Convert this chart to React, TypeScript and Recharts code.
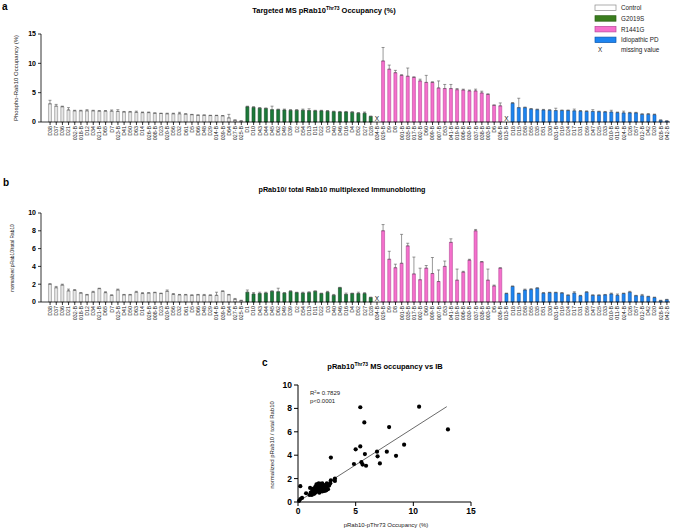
import React from "react";
import {
  ComposedChart,
  ScatterChart,
  Bar,
  Cell,
  ErrorBar,
  Scatter,
  XAxis,
  YAxis,
} from "recharts";

// sample ids per group (034-B and 013-B have no MS value)
const controlIds = ["D38", "D37", "D36", "D21", "032-B", "018-B", "D12", "D34", "021-B", "D65", "D7", "023-B", "D41", "D50", "D63", "D14", "026-B", "008-B", "D23", "020-B", "D56", "D32", "D61", "D5", "D66", "D48", "D29", "014-B", "039-B", "D64", "027-B", "025-B"];
const g2019sIds = ["D1", "D10", "D43", "D44", "D45", "D62", "D49", "D39", "D2", "D54", "D13", "D11", "D22", "D3", "D40", "D46", "D16", "D4", "D52", "D27", "D28"];
const r1441gIds = ["034-B", "029-B", "D9", "D8", "001-B", "035-B", "017-B", "002-B", "D60", "009-B", "007-B", "D53", "041-B", "019-B", "006-B", "030-B", "037-B", "038-B", "003-B", "D6", "036-B"];
const ipdIds = ["013-B", "D18", "D15", "D58", "D55", "D35", "D51", "D30", "031-B", "D19", "D24", "D17", "D31", "D59", "D47", "D25", "D33", "010-B", "011-B", "024-B", "D26", "D57", "012-B", "D42", "D20", "028-B", "042-B"];

// panel a: MS occupancy (%)
const occControl = [3.1, 2.7, 2.6, 2.05, 1.9, 1.9, 1.9, 1.9, 1.85, 1.85, 1.85, 1.8, 1.7, 1.7, 1.65, 1.6, 1.6, 1.5, 1.45, 1.4, 1.4, 1.4, 1.35, 1.25, 1.15, 1.15, 1.1, 1.1, 1.05, 0.7, 0.3, 0.15];
const occControlErr = [0.6, 0.3, 0.1, 0.4, 0.1, 0.1, 0.2, 0.1, 0.1, 0.1, 0.2, 0.3, 0.1, 0.1, 0.2, 0.1, 0.1, 0.05, 0.05, 0.1, 0.1, 0.25, 0.05, 0.05, 0.05, 0.05, 0.05, 0.05, 0.05, 0.6, 0.05, 0.05];
const occG2019s = [2.6, 2.5, 2.35, 2.3, 2.1, 2.1, 2.05, 2.0, 2.0, 2.0, 1.95, 1.9, 1.9, 1.85, 1.75, 1.7, 1.7, 1.65, 1.5, 1.5, 0.95];
const occG2019sErr = [0.1, 0.1, 0.1, 0.1, 0.6, 0.1, 0.15, 0.1, 0.1, 0.2, 0.3, 0.1, 0.1, 0.1, 0.1, 0.1, 0.1, 0.1, 0.1, 0.2, 0.05];
const occR1441g = [null, 10.4, 9.0, 8.4, 7.95, 7.8, 7.6, 7.0, 6.75, 6.75, 5.8, 5.7, 5.7, 5.5, 5.45, 5.3, 5.3, 4.95, 4.7, 2.85, 2.75];
const occR1441gErr = [null, 2.3, 0.7, 0.4, 0.1, 1.4, 0.1, 0.3, 1.2, 0.1, 1.2, 0.7, 0.7, 0.2, 0.15, 0.15, 0.3, 0.3, 0.1, 0.05, 0.5];
const occIpd = [null, 3.2, 2.45, 2.45, 2.2, 2.1, 2.05, 2.0, 1.95, 1.95, 1.95, 1.9, 1.85, 1.8, 1.8, 1.75, 1.7, 1.7, 1.6, 1.55, 1.55, 1.55, 1.3, 1.3, 1.25, 0.3, 0.15];
const occIpdErr = [null, 0.1, 1.6, 0.1, 0.1, 0.1, 0.1, 0.1, 0.4, 0.1, 0.1, 0.3, 0.1, 0.1, 0.3, 0.1, 0.1, 0.3, 0.1, 0.3, 0.1, 0.1, 0.1, 0.15, 0.1, 0.05, 0.05];

// panel b: normalized pRab10 / total Rab10
const ibControl = [2.0, 1.6, 1.9, 1.25, 1.3, 1.0, 0.8, 1.1, 1.5, 1.05, 0.75, 1.35, 0.8, 0.8, 1.1, 0.95, 1.0, 1.05, 0.95, 1.2, 0.85, 0.8, 0.8, 0.75, 0.8, 0.75, 0.75, 0.75, 1.2, 0.8, 0.3, 0.15];
const ibControlErr = [0.05, 0.15, 0.1, 0.2, 0.1, 0.05, 0.05, 0.1, 0.05, 0.1, 0.05, 0.1, 0.05, 0.05, 0.1, 0.1, 0.05, 0.05, 0.05, 0.15, 0.1, 0.05, 0.05, 0.05, 0.05, 0.1, 0.05, 0.35, 0.05, 0.05, 0.1, 0.05];
const ibG2019s = [1.1, 0.9, 0.95, 1.0, 1.2, 1.15, 1.0, 1.2, 1.05, 1.0, 1.05, 1.2, 0.95, 1.1, 0.75, 1.6, 0.85, 0.95, 0.95, 0.95, 0.5];
const ibG2019sErr = [0.25, 0.15, 0.15, 0.1, 0.05, 0.4, 0.05, 0.05, 0.05, 0.1, 0.1, 0.05, 0.05, 0.1, 0.1, 0.05, 0.15, 0.05, 0.15, 0.1, 0.05];
const ibR1441g = [null, 8.0, 4.8, 3.85, 4.35, 6.3, 3.15, 2.5, 3.8, 3.2, 2.3, 4.0, 6.7, 2.45, 3.35, 4.7, 8.0, 4.5, 2.45, 1.8, 3.8];
const ibR1441gErr = [null, 0.7, 0.9, 0.4, 3.25, 0.3, 1.9, 1.3, 0.3, 1.8, 1.3, 0.6, 0.4, 1.25, 0.1, 0.1, 0.15, 0.05, 1.25, 0.1, 0.05];
const ibIpd = [0.95, 1.75, 0.95, 1.35, 1.4, 1.55, 1.0, 1.05, 1.05, 1.0, 0.75, 1.0, 0.7, 1.1, 0.75, 0.75, 0.8, 0.9, 0.75, 0.95, 1.1, 0.7, 0.7, 0.6, 0.5, 0.15, 0.25];
const ibIpdErr = [0.05, 0.05, 0.05, 0.1, 0.1, 0.05, 0.05, 0.05, 0.05, 0.05, 0.05, 0.15, 0.05, 0.05, 0.05, 0.05, 0.05, 0.1, 0.15, 0.05, 0.1, 0.05, 0.15, 0.05, 0.05, 0.05, 0.05];

// panel c: MS occupancy vs IB
const scatterOcc = [0.1, 0.2, 0.35, 0.2, 0.7, 1.05, 1.0, 1.1, 1.2, 1.25, 1.3, 1.35, 1.4, 1.45, 1.5, 1.5, 1.55, 1.6, 1.65, 1.7, 1.7, 1.75, 1.8, 1.8, 1.85, 1.9, 1.9, 1.95, 2.0, 2.0, 2.05, 2.1, 2.1, 2.2, 2.25, 2.3, 2.3, 2.4, 2.5, 2.5, 2.6, 2.7, 2.8, 2.85, 2.85, 3.2, 3.2, 1.6, 1.95, 2.45, 1.75, 2.15, 4.85, 5.0, 5.4, 5.4, 5.5, 5.6, 5.75, 5.8, 5.9, 6.85, 6.9, 7.1, 7.7, 7.9, 8.5, 9.2, 10.5, 13.0];
const scatterIb = [0.1, 0.25, 0.35, 1.35, 0.75, 1.2, 0.6, 0.8, 0.6, 1.0, 0.9, 1.15, 0.7, 1.0, 0.8, 1.3, 1.1, 0.95, 1.2, 1.5, 0.9, 1.0, 1.6, 1.2, 0.8, 1.3, 1.05, 0.95, 1.5, 1.0, 1.2, 1.6, 0.9, 1.2, 1.45, 0.95, 1.35, 1.05, 1.3, 1.6, 1.1, 1.4, 1.6, 1.85, 3.8, 2.0, 1.8, 1.5, 1.55, 1.0, 1.35, 1.05, 3.25, 4.5, 4.75, 8.1, 3.4, 3.2, 6.8, 4.1, 3.1, 4.3, 3.9, 3.3, 4.3, 6.4, 3.95, 4.9, 8.15, 6.2];
const fitOcc = [0.05, 12.9];
const fitIb = [0.05, 8.15];

const groupStyle: Record<string, { fill: string; stroke: string }> = {
  control: { fill: "#e6e6e6", stroke: "#8a8a8a" },
  g2019s: { fill: "#1c7a3a", stroke: "#0d4a20" },
  r1441g: { fill: "#f570cc", stroke: "#b8479b" },
  ipd: { fill: "#1d84f0", stroke: "#0d57ad" },
};

const allIds = [...controlIds, ...g2019sIds, ...r1441gIds, ...ipdIds];
const groupOf = [
  ...controlIds.map(() => "control"),
  ...g2019sIds.map(() => "g2019s"),
  ...r1441gIds.map(() => "r1441g"),
  ...ipdIds.map(() => "ipd"),
];

function buildRows(vals: (number | null)[], errs: (number | null)[]) {
  return allIds.map((id, i) => ({
    i,
    v: vals[i],
    e: vals[i] == null || errs[i] == null ? undefined : [0, errs[i]],
    miss: vals[i] == null ? 0 : null,
  }));
}

const occRows = buildRows(
  [...occControl, ...occG2019s, ...occR1441g, ...occIpd],
  [...occControlErr, ...occG2019sErr, ...occR1441gErr, ...occIpdErr]
);
const ibRows = buildRows(
  [...ibControl, ...ibG2019s, ...ibR1441g, ...ibIpd],
  [...ibControlErr, ...ibG2019sErr, ...ibR1441gErr, ...ibIpdErr]
);
const scatterRows = scatterOcc.map((x, i) => ({ x, y: scatterIb[i] }));
const fitRows = fitOcc.map((x, i) => ({ x, y: fitIb[i] }));

const FONT = "'Liberation Sans', Arial, Helvetica, sans-serif";

const IdTick = (props: any) => {
  const { x, y, payload } = props;
  return (
    <text
      x={x}
      y={y}
      transform={`rotate(-90 ${x} ${y})`}
      textAnchor="end"
      dy="0.35em"
      fontSize={5.3}
      fill="#222"
    >
      {allIds[payload.value]}
    </text>
  );
};

const MissShape = (props: any) => {
  if (props.payload?.miss == null) return <g />;
  return (
    <text x={props.cx} y={props.cy - 1} textAnchor="middle" fontSize={6.5} fill="#111">
      X
    </text>
  );
};

const Dot = (props: any) => <circle cx={props.cx} cy={props.cy} r={2.1} fill="#000" />;

function BarPanel({
  rows,
  top,
  height,
  marginTop,
  xHeight,
  yMax,
  yTicks,
}: {
  rows: any[];
  top: number;
  height: number;
  marginTop: number;
  xHeight: number;
  yMax: number;
  yTicks: number[];
}) {
  return (
    <div style={{ position: "absolute", left: 0, top }}>
      <ComposedChart
        width={679}
        height={height}
        data={rows}
        margin={{ top: marginTop, right: 9, left: 0, bottom: 0 }}
        barCategoryGap="24%"
      >
        <XAxis
          dataKey="i"
          type="category"
          interval={0}
          tick={<IdTick />}
          tickSize={3}
          tickMargin={1}
          height={xHeight}
          padding={{ left: 6, right: 0 }}
          stroke="#000"
          strokeWidth={0.8}
        />
        <YAxis
          width={41}
          domain={[0, yMax]}
          ticks={yTicks}
          tickSize={3}
          tickMargin={2}
          stroke="#000"
          strokeWidth={0.8}
          tick={{ fontSize: 7, fontWeight: 700, fill: "#000" }}
        />
        <Bar dataKey="v" strokeWidth={0.6} isAnimationActive={false}>
          {rows.map((r, idx) => (
            <Cell
              key={idx}
              fill={groupStyle[groupOf[idx]].fill}
              stroke={groupStyle[groupOf[idx]].stroke}
            />
          ))}
          <ErrorBar
            dataKey="e"
            direction="y"
            width={1.5}
            stroke="#555"
            strokeWidth={0.6}
            isAnimationActive={false}
          />
        </Bar>
        <Scatter dataKey="miss" shape={<MissShape />} isAnimationActive={false} />
      </ComposedChart>
    </div>
  );
}

export default function App() {
  const legend = [
    { label: "Control", fill: "#ffffff", stroke: "#8a8a8a" },
    { label: "G2019S", fill: "#3a7d1e", stroke: "#2c6014" },
    { label: "R1441G", fill: "#f570cc", stroke: "#b8479b" },
    { label: "Idiopathic PD", fill: "#1d84f0", stroke: "#0d57ad" },
  ];
  return (
    <div
      style={{
        position: "absolute",
        left: 0,
        top: 0,
        width: 679,
        height: 530,
        background: "#fff",
        fontFamily: FONT,
        overflow: "hidden",
      }}
    >
      <BarPanel rows={occRows} top={0} height={170} marginTop={34} xHeight={48} yMax={15} yTicks={[0, 5, 10, 15]} />
      <BarPanel rows={ibRows} top={175} height={170} marginTop={38} xHeight={43} yMax={10} yTicks={[0, 2, 4, 6, 8, 10]} />

      <div style={{ position: "absolute", left: 250, top: 370 }}>
        <ScatterChart width={230} height={160} margin={{ top: 15, right: 9, left: 0, bottom: 8 }}>
          <XAxis
            type="number"
            dataKey="x"
            domain={[0, 15]}
            ticks={[0, 5, 10, 15]}
            height={20}
            tickSize={4}
            tickMargin={2}
            stroke="#000"
            strokeWidth={1}
            tick={{ fontSize: 8.5, fontWeight: 700, fill: "#000" }}
          />
          <YAxis
            type="number"
            dataKey="y"
            width={48}
            domain={[0, 10]}
            ticks={[0, 2, 4, 6, 8, 10]}
            tickSize={4}
            tickMargin={2}
            stroke="#000"
            strokeWidth={1}
            tick={{ fontSize: 8.5, fontWeight: 700, fill: "#000" }}
          />
          <Scatter
            data={fitRows}
            line={{ stroke: "#444", strokeWidth: 0.8 }}
            shape={() => <g />}
            isAnimationActive={false}
          />
          <Scatter data={scatterRows} shape={<Dot />} isAnimationActive={false} />
        </ScatterChart>
      </div>

      <svg
        width={679}
        height={530}
        style={{ position: "absolute", left: 0, top: 0, pointerEvents: "none" }}
        fontFamily={FONT}
      >
        <text x={2} y={10} fontSize={10} fontWeight={700}>a</text>
        <text x={3} y={186} fontSize={10} fontWeight={700}>b</text>
        <text x={262} y={366} fontSize={10} fontWeight={700}>c</text>

        <text x={324} y={13} fontSize={7.5} fontWeight={700} textAnchor="middle">
          Targeted MS pRab10
          <tspan dy={-3} fontSize={5}>Thr73</tspan>
          <tspan dy={3}> Occupancy (%)</tspan>
        </text>
        <text x={342} y={192} fontSize={7.2} fontWeight={700} textAnchor="middle">
          pRab10/ total Rab10 multiplexed Immunoblotting
        </text>
        <text x={385} y={369} fontSize={7.5} fontWeight={700} textAnchor="middle">
          pRab10
          <tspan dy={-3} fontSize={5}>Thr73</tspan>
          <tspan dy={3}> MS occupancy vs IB</tspan>
        </text>

        <text transform="translate(18 78) rotate(-90)" fontSize={6} textAnchor="middle" fill="#222">
          Phospho-Rab10 Occupancy (%)
        </text>
        <text transform="translate(14 258) rotate(-90)" fontSize={4.8} textAnchor="middle" fill="#222">
          normalized pRab10/total Rab10
        </text>
        <text transform="translate(274 445) rotate(-90)" fontSize={6} textAnchor="middle" fill="#222">
          normalized pRab10 / total Rab10
        </text>
        <text x={386} y={527} fontSize={6} textAnchor="middle" fill="#222">
          pRab10-pThr73 Occupancy (%)
        </text>
        <text x={310} y={395} fontSize={6} fill="#222">
          R<tspan dy={-2.5} fontSize={4}>2</tspan>
          <tspan dy={2.5}>= 0.7829</tspan>
        </text>
        <text x={310} y={403} fontSize={6} fill="#222">p&lt;0.0001</text>

        {legend.map((l, k) => (
          <g key={l.label}>
            <rect x={595} y={5 + k * 10.7} width={21} height={5.5} fill={l.fill} stroke={l.stroke} strokeWidth={0.7} />
            <text x={621} y={10.3 + k * 10.7} fontSize={6.3} fill="#222">{l.label}</text>
          </g>
        ))}
        <text x={600} y={52} fontSize={6.3} textAnchor="middle" fill="#222">X</text>
        <text x={621} y={52} fontSize={6.3} fill="#222">missing value</text>
      </svg>
    </div>
  );
}
